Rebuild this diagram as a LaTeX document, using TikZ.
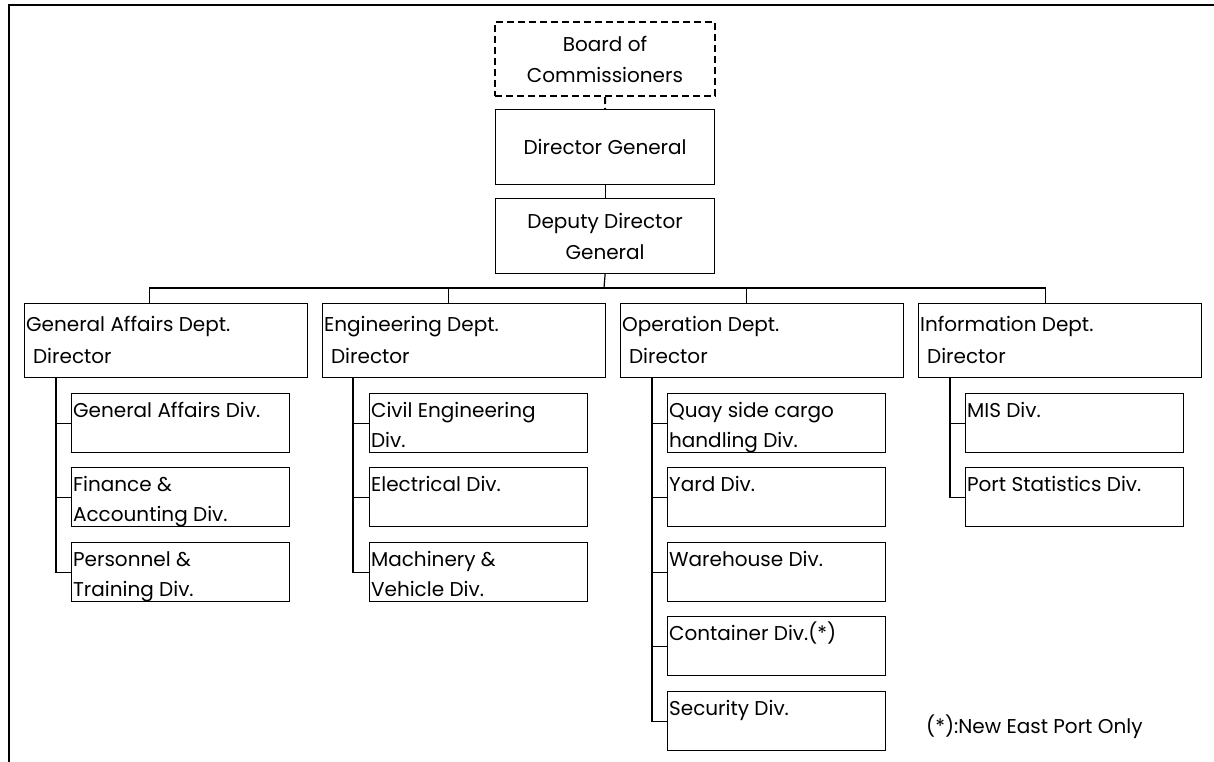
\documentclass[tikz,border=0pt]{standalone}
\usepackage{fontspec}
\setmainfont{Poppins}
\newcommand\chartfont{\fontsize{20}{30}\selectfont}
% #1 width, #2 height, #3 first baseline, #4 leading, #5 text
\newcommand\tbox[5]{\parbox[c][#2][t]{#1}{\chartfont\raggedright\baselineskip=#4\relax\leftskip=1.5pt\hfuzz=20pt\rule{0pt}{#3}#5}}
\newcommand\cbox[4]{\parbox[c][#2][c]{#1}{\chartfont\centering\baselineskip=#3\relax #4}}
\tikzset{
  box/.style={draw, line width=1.2pt, inner sep=0pt, anchor=north west},
  dashbox/.style={draw, line width=2pt, dash pattern=on 7pt off 4pt, inner sep=0pt, anchor=north west},
  link/.style={line width=1.2pt},
  frame/.style={line width=2.5pt},
}
\newcommand\dept[1]{\tbox{283pt}{74pt}{28pt}{32pt}{#1}}
\newcommand\division[1]{\tbox{218pt}{59pt}{24pt}{30pt}{#1}}
\begin{document}
\begin{tikzpicture}[x=1pt,y=-1pt]
\useasboundingbox (0,0) rectangle (1214,762);
\draw[frame] (9,763) -- (9,5) -- (1215,5);

\node[dashbox] (board) at (494,21) {\cbox{220pt}{74pt}{31pt}{Board of\\Commissioners}};
\node[box] (dg) at (495,109) {\cbox{219pt}{75pt}{31pt}{Director General}};
\node[box] (ddg) at (495,198) {\cbox{219pt}{75pt}{31pt}{Deputy Director\\General}};

\node[box] (ga) at (24,303) {\dept{\mbox{General Affairs Dept.}\\\hspace*{7pt}Director}};
\node[box] (eng) at (322,303) {\dept{\mbox{Engineering Dept.}\\\hspace*{7pt}Director}};
\node[box] (op) at (620,303) {\dept{\mbox{Operation Dept.}\\\hspace*{7pt}Director}};
\node[box] (info) at (918,303) {\dept{\mbox{Information Dept.}\\\hspace*{7pt}Director}};

\node[box] (ga1) at (71,393) {\division{\mbox{General Affairs Div.}}};
\node[box] (ga2) at (71,467) {\division{\mbox{Finance \&}\\\mbox{Accounting Div.}}};
\node[box] (ga3) at (71,542) {\division{\mbox{Personnel \&}\\\mbox{Training Div.}}};

\node[box] (eng1) at (369,393) {\division{\mbox{Civil Engineering}\\Div.}};
\node[box] (eng2) at (369,467) {\division{\mbox{Electrical Div.}}};
\node[box] (eng3) at (369,542) {\division{\mbox{Machinery \&}\\\mbox{Vehicle Div.}}};

\node[box] (op1) at (667,393) {\division{\mbox{Quay side cargo}\\\mbox{handling Div.}}};
\node[box] (op2) at (667,467) {\division{\mbox{Yard Div.}}};
\node[box] (op3) at (667,542) {\division{\mbox{Warehouse Div.}}};
\node[box] (op4) at (667,616) {\division{\mbox{Container Div.(*)}}};
\node[box] (op5) at (667,691) {\division{\mbox{Security Div.}}};

\node[box] (info1) at (965,393) {\division{\mbox{MIS Div.}}};
\node[box] (info2) at (965,467) {\division{\mbox{Port Statistics Div.}}};

\node[anchor=base west, inner sep=0pt] (note) at (926,733) {\chartfont(*):New East Port Only};

% connectors
\draw[link, dash pattern=on 7pt off 4pt, line width=2pt] (board.south) -- (dg.north);
\draw[link] (dg.south) -- (ddg.north);
\coordinate (bus) at (604,288);
\draw[link] (ddg.south) -- (bus);
\coordinate (gat) at ([xshift=-17pt]ga.north);
\coordinate (engt) at ([xshift=-16pt]eng.north);
\coordinate (opt) at ([xshift=-16pt]op.north);
\coordinate (infot) at ([xshift=-15pt]info.north);
\draw[link] (gat) -- (gat |- bus) -- (infot |- bus) -- (infot);
\draw[link] (engt) -- (engt |- bus);
\draw[link] (opt) -- (opt |- bus);

\coordinate (gas) at ([xshift=32pt]ga.south west);
\draw[link] (gas) |- (ga3.west);
\foreach \n in {ga1,ga2} \draw[link] (\n.west) -- (\n.west -| gas);

\coordinate (engs) at ([xshift=31pt]eng.south west);
\draw[link] (engs) |- (eng3.west);
\foreach \n in {eng1,eng2} \draw[link] (\n.west) -- (\n.west -| engs);

\coordinate (ops) at ([xshift=32pt]op.south west);
\draw[link] (ops) |- (op5.west);
\foreach \n in {op1,op2,op3,op4} \draw[link] (\n.west) -- (\n.west -| ops);

\coordinate (infos) at ([xshift=32pt]info.south west);
\draw[link] (infos) |- (info2.west);
\draw[link] (info1.west) -- (info1.west -| infos);
\end{tikzpicture}
\end{document}
